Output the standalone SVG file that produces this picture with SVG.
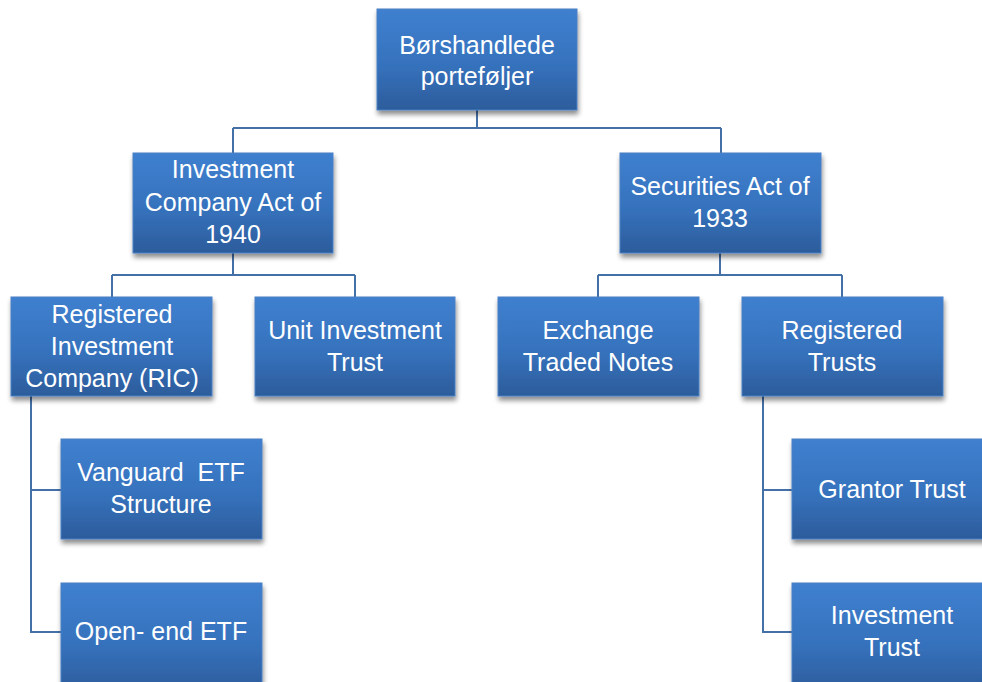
<svg xmlns="http://www.w3.org/2000/svg" width="982" height="682" viewBox="0 0 982 682">
<defs>
<linearGradient id="g" x1="0" y1="0" x2="0" y2="1">
<stop offset="0" stop-color="#3f80cf"/>
<stop offset="0.55" stop-color="#3672bd"/>
<stop offset="1" stop-color="#2c5c9b"/>
</linearGradient>
<filter id="sh" x="-10%" y="-10%" width="125%" height="130%">
<feGaussianBlur in="SourceAlpha" stdDeviation="2.5"/>
<feOffset dx="1" dy="4" result="b"/>
<feComponentTransfer><feFuncA type="linear" slope="0.45"/></feComponentTransfer>
<feMerge><feMergeNode/><feMergeNode in="SourceGraphic"/></feMerge>
</filter>
</defs>
<style>
.box{fill:url(#g);stroke:#4a80c4;stroke-width:1;filter:url(#sh)}
.t{font-family:"Liberation Sans",Arial,sans-serif;font-size:25px;fill:#ffffff;text-anchor:middle}
.c{fill:none;stroke:#4470a8;stroke-width:2}
</style>
<rect width="982" height="682" fill="#ffffff"/>
<g id="connectors">
<path class="c" d="M477,110 V128 M233,128 H721 M233,128 V153 M721,128 V153"/>
<path class="c" d="M233,253 V275 M112,275 H355 M112,275 V297 M355,275 V297"/>
<path class="c" d="M720,253 V275 M598,275 H842 M598,275 V297 M842,275 V297"/>
<path class="c" d="M31,396 V632 H61 M31,490 H61"/>
<path class="c" d="M763,396 V632 H792 M763,490 H792"/>
</g>
<g id="n-root">
<rect class="box" x="377" y="9" width="200" height="101"/>
<text class="t" x="477" y="54">Børshandlede</text>
<text class="t" x="477" y="85">porteføljer</text>
</g>
<g id="n-ica">
<rect class="box" x="133" y="153" width="200" height="100"/>
<text class="t" x="233" y="178">Investment</text>
<text class="t" x="233" y="211">Company Act of</text>
<text class="t" x="233" y="243">1940</text>
</g>
<g id="n-sa">
<rect class="box" x="620" y="153" width="201" height="100"/>
<text class="t" x="720" y="195">Securities Act of</text>
<text class="t" x="720" y="227">1933</text>
</g>
<g id="n-ric">
<rect class="box" x="11" y="297" width="201" height="99"/>
<text class="t" x="112" y="323">Registered</text>
<text class="t" x="112" y="355">Investment</text>
<text class="t" x="112" y="387">Company (RIC)</text>
</g>
<g id="n-uit">
<rect class="box" x="255" y="297" width="200" height="99"/>
<text class="t" x="355" y="339">Unit Investment</text>
<text class="t" x="355" y="371">Trust</text>
</g>
<g id="n-etn">
<rect class="box" x="498" y="297" width="201" height="99"/>
<text class="t" x="598" y="339">Exchange</text>
<text class="t" x="598" y="371">Traded Notes</text>
</g>
<g id="n-rt">
<rect class="box" x="742" y="297" width="201" height="99"/>
<text class="t" x="842" y="339">Registered</text>
<text class="t" x="842" y="371">Trusts</text>
</g>
<g id="n-vg">
<rect class="box" x="61" y="439" width="201" height="100"/>
<text class="t" x="161" y="481">Vanguard&#160; ETF</text>
<text class="t" x="161" y="513">Structure</text>
</g>
<g id="n-oe">
<rect class="box" x="61" y="583" width="201" height="110"/>
<text class="t" x="161" y="640">Open- end ETF</text>
</g>
<g id="n-gt">
<rect class="box" x="792" y="439" width="201" height="100"/>
<text class="t" x="892" y="498">Grantor Trust</text>
</g>
<g id="n-it">
<rect class="box" x="792" y="583" width="201" height="110"/>
<text class="t" x="892" y="624">Investment</text>
<text class="t" x="892" y="656">Trust</text>
</g>
</svg>
